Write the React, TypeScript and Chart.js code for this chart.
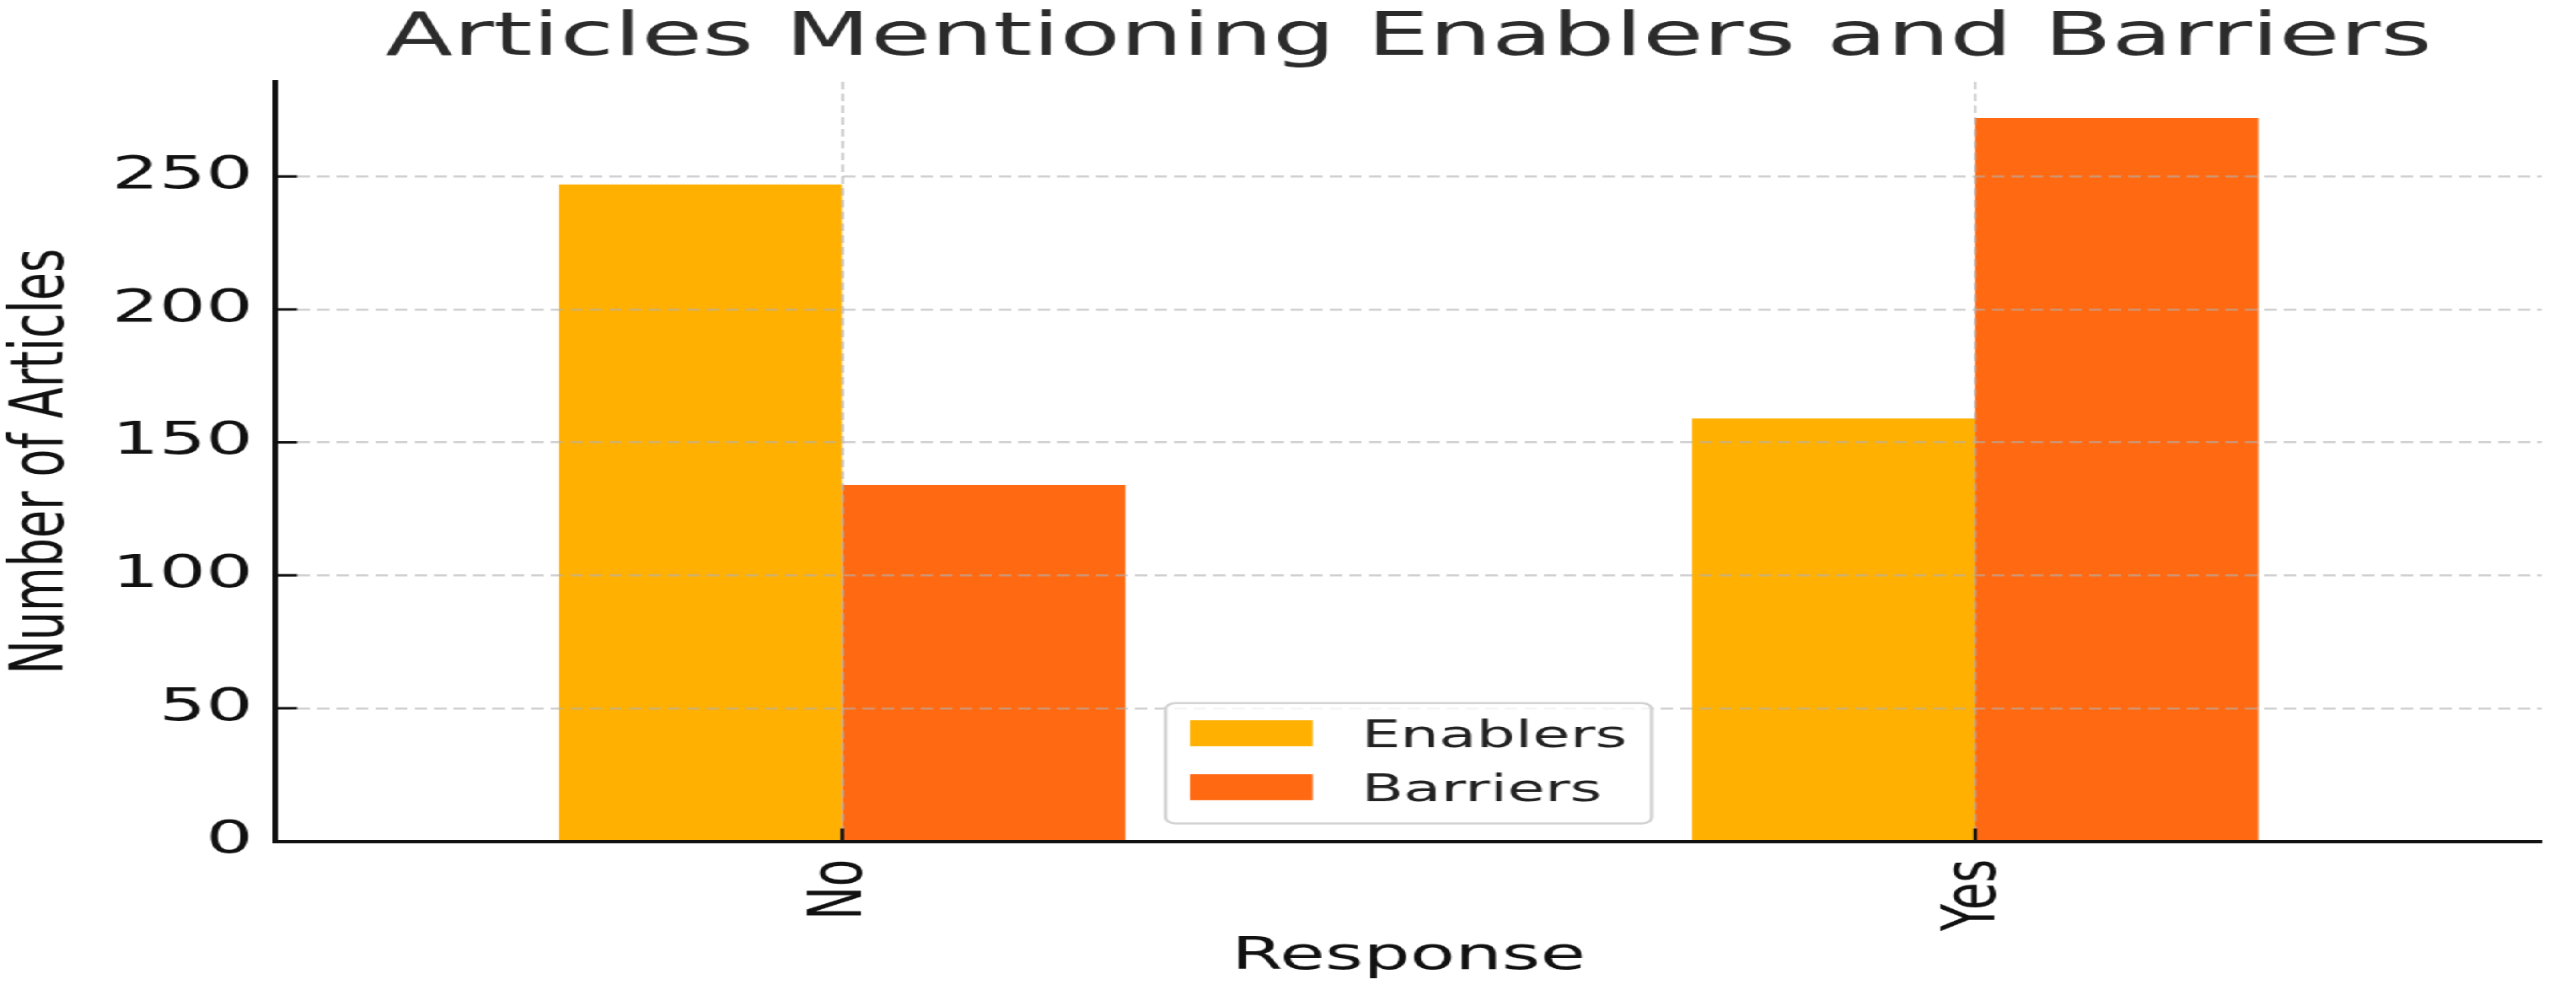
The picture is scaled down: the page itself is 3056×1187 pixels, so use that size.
import React, { useEffect, useRef } from "react";
import { Chart, registerables } from "chart.js";

Chart.register(...registerables);

// ---- data ----
const categories = ["No", "Yes"];
const seriesLabels = ["Enablers", "Barriers"];
const enablers = [247, 159];
const barriers = [134, 272];
const seriesColors = ["#FFB000", "#FF6912"];
const yTickStep = 50;
const titleText = "Articles Mentioning Enablers and Barriers";
const xTitleText = "Response";
const yTitleText = "Number of Articles";

// ---- geometry (the reference is horizontally stretched) ----
const FULL_W = 3056;
const FULL_H = 1187;
const W = 1852;
const K = FULL_W / W;
const FONT = "'DejaVu Sans', 'Noto Sans', sans-serif";
const GRID_COLOR = "rgba(176,176,176,0.6)";
const AXIS_COLOR = "#111111";

const inwardTicks = {
  id: "inwardTicks",
  afterDraw(chart: any) {
    const { ctx, chartArea: a, scales } = chart;
    const xs = scales.x;
    const ys = scales.y;
    ctx.save();
    ctx.strokeStyle = AXIS_COLOR;
    ctx.lineWidth = 3;
    ys.ticks.forEach((_t: any, i: number) => {
      const py = ys.getPixelForTick(i);
      ctx.beginPath();
      ctx.moveTo(a.left, py);
      ctx.lineTo(a.left + 15.5, py);
      ctx.stroke();
    });
    ctx.lineWidth = 2.5;
    xs.ticks.forEach((_t: any, i: number) => {
      const px = xs.getPixelForTick(i);
      ctx.beginPath();
      ctx.moveTo(px, a.bottom);
      ctx.lineTo(px, a.bottom - 15);
      ctx.stroke();
    });
    ctx.restore();
  },
};

const boxLegend = {
  id: "boxLegend",
  afterDraw(chart: any) {
    const { ctx, chartArea: a } = chart;
    const fs = 44;
    ctx.save();
    ctx.font = `${fs}px ${FONT}`;
    const ds = chart.data.datasets;
    const textW = Math.max(...ds.map((d: any) => ctx.measureText(d.label).width));
    const pad = 0.4 * fs;
    const handleLen = 2 * fs;
    const handleH = 0.7 * fs;
    const textPad = 0.8 * fs;
    const pitch = 64;
    const boxW = 2 * pad + handleLen + textPad + textW;
    const boxH = 142.7;
    const left = (a.left + a.right) / 2 - boxW / 2;
    const bottom = a.bottom - 21;
    const top = bottom - boxH;
    ctx.beginPath();
    ctx.roundRect(left, top, boxW, boxH, 7);
    ctx.fillStyle = "rgba(255,255,255,0.8)";
    ctx.fill();
    ctx.lineWidth = 2.5;
    ctx.strokeStyle = "#d2d2d2";
    ctx.stroke();
    ds.forEach((d: any, i: number) => {
      const cy = top + 35.7 + i * pitch;
      ctx.fillStyle = d.backgroundColor;
      ctx.fillRect(left + pad, cy - handleH / 2, handleLen, handleH);
      ctx.fillStyle = "#222222";
      ctx.textBaseline = "alphabetic";
      ctx.textAlign = "left";
      ctx.fillText(d.label, left + pad + handleLen + textPad, cy + (0.729 * fs) / 2);
    });
    ctx.restore();
  },
};

export default function App() {
  const canvasRef = useRef<HTMLCanvasElement | null>(null);

  useEffect(() => {
    const canvas = canvasRef.current;
    if (!canvas) return;
    const yMax = Math.max(...enablers, ...barriers) * 1.05;
    const chart = new Chart(canvas, {
      type: "bar",
      data: {
        labels: categories,
        datasets: [
          {
            label: seriesLabels[0],
            data: enablers,
            backgroundColor: seriesColors[0],
            borderWidth: 0,
            barPercentage: 1,
            categoryPercentage: 0.5,
          },
          {
            label: seriesLabels[1],
            data: barriers,
            backgroundColor: seriesColors[1],
            borderWidth: 0,
            barPercentage: 1,
            categoryPercentage: 0.5,
          },
        ],
      },
      options: {
        responsive: false,
        animation: false,
        devicePixelRatio: 1,
        events: [],
        layout: { padding: { left: 0, right: 24.7, top: 0, bottom: 0 } },
        plugins: {
          legend: { display: false },
          tooltip: { enabled: false },
          title: {
            display: true,
            text: titleText,
            fullSize: false,
            color: "#2b2b2b",
            font: { family: FONT, size: 71, weight: "normal", lineHeight: 1.2 },
            padding: { top: 3.8, bottom: 8 },
          },
        },
        scales: {
          x: {
            offset: true,
            ticks: {
              minRotation: 90,
              maxRotation: 90,
              autoSkip: false,
              padding: 21.3,
              color: AXIS_COLOR,
              font: { family: FONT, size: 53 },
            },
            grid: {
              offset: false,
              color: GRID_COLOR,
              lineWidth: 1.8,
              drawTicks: false,
              z: 1,
            },
            border: { display: true, color: AXIS_COLOR, width: 4, z: 2, dash: [9, 5] },
            title: {
              display: true,
              text: xTitleText,
              color: AXIS_COLOR,
              font: { family: FONT, size: 53, lineHeight: 1 },
              padding: { top: 0, bottom: 25.5 },
            },
            afterFit: (s: any) => {
              s.height = 189.5;
            },
          },
          y: {
            min: 0,
            max: yMax,
            ticks: {
              stepSize: yTickStep,
              includeBounds: false,
              padding: 16.5,
              color: AXIS_COLOR,
              font: { family: FONT, size: 53 },
            },
            grid: {
              color: GRID_COLOR,
              lineWidth: 2.5,
              drawTicks: false,
              z: 1,
            },
            border: { display: true, color: AXIS_COLOR, width: 4, z: 2, dash: [9, 5] },
            title: {
              display: true,
              text: yTitleText,
              color: AXIS_COLOR,
              font: { family: FONT, size: 54, lineHeight: 1 },
              padding: { top: 3.8, bottom: 0 },
            },
            afterFit: (s: any) => {
              s.width = 198.2;
            },
          },
        },
      } as any,
      plugins: [inwardTicks, boxLegend],
    });
    return () => chart.destroy();
  }, []);

  return (
    <div
      style={{
        position: "fixed",
        left: 0,
        top: 0,
        width: W,
        height: FULL_H,
        transform: `scaleX(${K})`,
        transformOrigin: "0 0",
        background: "#ffffff",
      }}
    >
      <canvas
        ref={canvasRef}
        width={W}
        height={FULL_H}
        style={{ display: "block", width: W, height: FULL_H }}
      />
    </div>
  );
}
